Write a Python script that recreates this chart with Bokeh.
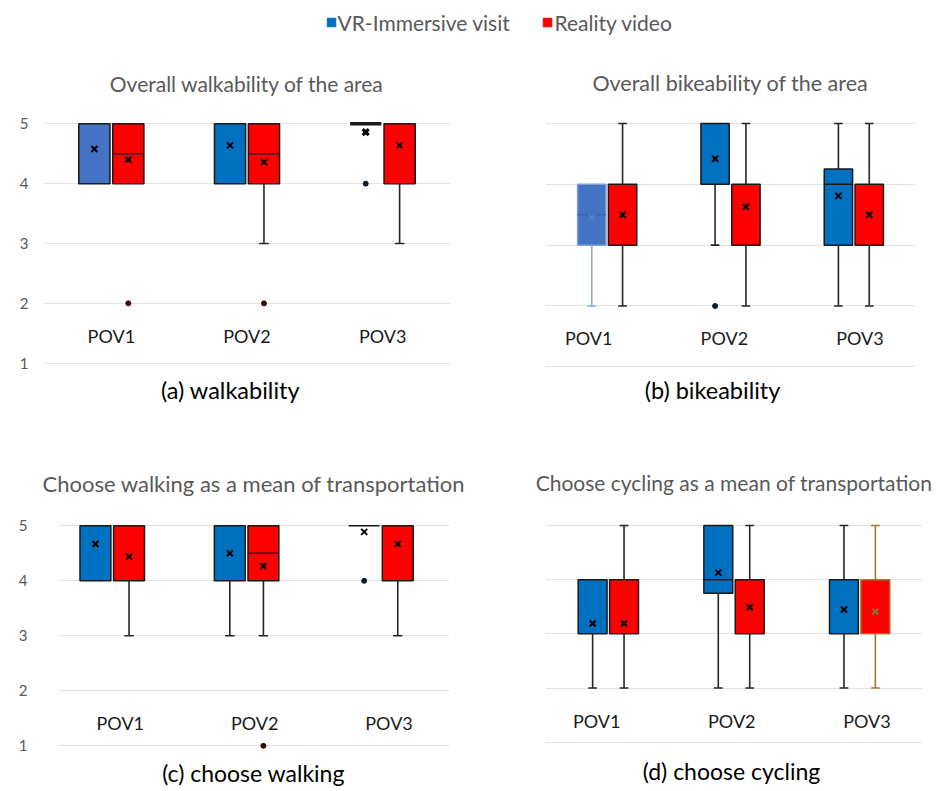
from bokeh.plotting import figure
from bokeh.layouts import column, row
from bokeh.models import ColumnDataSource, FixedTicker, Range1d
from bokeh.core.properties import value
from bokeh.embed import file_html
from bokeh.resources import INLINE

# ---------------- data ----------------
categories = ["POV1", "POV2", "POV3"]
series_names = ["VR-Immersive visit", "Reality video"]
series_colors = ["#0070C0", "#FF0000"]
y_ticks = [1, 2, 3, 4, 5]

# (a) walkability
walk_vr_q1 = [4, 4, 5]
walk_vr_med = [5, 5, 5]
walk_vr_q3 = [5, 5, 5]
walk_vr_lo = [4, 4, 5]
walk_vr_hi = [5, 5, 5]
walk_vr_mean = [4.58, 4.64, 4.86]
walk_vr_out = [[], [], [4]]
walk_rv_q1 = [4, 4, 4]
walk_rv_med = [4.5, 4.5, 5]
walk_rv_q3 = [5, 5, 5]
walk_rv_lo = [4, 3, 3]
walk_rv_hi = [5, 5, 5]
walk_rv_mean = [4.40, 4.36, 4.64]
walk_rv_out = [[2], [2], []]

# (b) bikeability
bike_vr_q1 = [3, 4, 3]
bike_vr_med = [3.5, 5, 4]
bike_vr_q3 = [4, 5, 4.25]
bike_vr_lo = [2, 3, 2]
bike_vr_hi = [4, 5, 5]
bike_vr_mean = [3.46, 4.42, 3.81]
bike_vr_out = [[], [2], []]
bike_rv_q1 = [3, 3, 3]
bike_rv_med = [4, 4, 4]
bike_rv_q3 = [4, 4, 4]
bike_rv_lo = [2, 2, 2]
bike_rv_hi = [5, 5, 5]
bike_rv_mean = [3.50, 3.63, 3.50]
bike_rv_out = [[], [], []]

# (c) choose walking
cwalk_vr_q1 = [4, 4, 5]
cwalk_vr_med = [5, 5, 5]
cwalk_vr_q3 = [5, 5, 5]
cwalk_vr_lo = [4, 3, 5]
cwalk_vr_hi = [5, 5, 5]
cwalk_vr_mean = [4.67, 4.50, 4.89]
cwalk_vr_out = [[], [], [4]]
cwalk_rv_q1 = [4, 4, 4]
cwalk_rv_med = [4, 4.5, 5]
cwalk_rv_q3 = [5, 5, 5]
cwalk_rv_lo = [3, 3, 3]
cwalk_rv_hi = [5, 5, 5]
cwalk_rv_mean = [4.44, 4.27, 4.67]
cwalk_rv_out = [[], [1], []]

# (d) choose cycling
ccyc_vr_q1 = [3, 3.75, 3]
ccyc_vr_med = [3, 4, 3]
ccyc_vr_q3 = [4, 5, 4]
ccyc_vr_lo = [2, 2, 2]
ccyc_vr_hi = [4, 5, 5]
ccyc_vr_mean = [3.19, 4.13, 3.45]
ccyc_vr_out = [[], [], []]
ccyc_rv_q1 = [3, 3, 3]
ccyc_rv_med = [3, 3, 3]
ccyc_rv_q3 = [4, 4, 4]
ccyc_rv_lo = [2, 2, 2]
ccyc_rv_hi = [5, 5, 5]
ccyc_rv_mean = [3.19, 3.49, 3.41]
ccyc_rv_out = [[], [], []]

# ---------------- styling / layout ----------------
FONT = "Lato"
BOX_W = 0.23
OFFS = [-0.125, 0.125]
CAP_W = 0.07

DEFAULT_STYLE = dict(line="#1A1A1A", whisker="#262626", mean="#000000",
                     median="#1A1A1A", box_lw=1.5, mean_lw=2)
OVERRIDES = {
    ("a", 0, 0): dict(fill="#4472C4"),
    ("a", 0, 2): dict(box_lw=3.5, mean_lw=3),
    ("b", 0, 0): dict(fill="#4472C4", line="#7F9CD8", whisker="#8FAADC",
                      mean="#5A7FCB", median="#3B64B5"),
    ("d", 1, 2): dict(line="#9C7A30", whisker="#9C7A30", mean="#8C7030"),
}
OUT_COLORS = ["#0D1A2B", "#3A0808"]


def style_for(key, s, i):
    st = dict(DEFAULT_STYLE)
    st["fill"] = series_colors[s]
    st.update(OVERRIDES.get((key, s, i), {}))
    return st


def make_panel(spec):
    key = spec["key"]
    # page-pixel layout -> data ranges
    ppu = (spec["g1"] - spec["g5"]) / 4.0
    y_end = 5 + (spec["g5"] - spec["top"]) / ppu
    y_start = 1 - (spec["bottom"] - spec["g1"]) / ppu
    fh = spec["bottom"] - spec["top"]
    mbt = spec["top"] - spec["row_top"]
    fw = spec["fw"]
    x0r, x1r = spec["xr"]
    frame_left = spec["fig_left"] + spec["mbl"]

    p = figure(frame_width=fw, frame_height=fh,
               x_range=Range1d(x0r, x1r), y_range=Range1d(y_start, y_end),
               x_axis_location=None,
               y_axis_location="left" if spec["yaxis"] else None,
               toolbar_location=None, output_backend="svg",
               min_border_left=spec["mbl"], min_border_right=spec["mbr"],
               min_border_top=mbt, min_border_bottom=0,
               outline_line_color=None, background_fill_color="white",
               border_fill_color="white", title=spec["title"])
    p.title.align = "center"
    p.title.text_font = FONT
    p.title.text_font_size = spec["tsize"]
    p.title.text_font_style = "normal"
    p.title.text_color = "#595959"
    p.title.standoff = spec["tstand"]

    p.xgrid.visible = False
    p.ygrid.ticker = FixedTicker(ticks=y_ticks)
    p.ygrid.grid_line_color = "#E3E3E3"
    p.ygrid.grid_line_width = 1

    if spec["yaxis"]:
        ax = p.yaxis[0]
        ax.ticker = FixedTicker(ticks=y_ticks)
        ax.axis_line_color = None
        ax.major_tick_line_color = None
        ax.minor_tick_line_color = None
        ax.major_tick_out = 0
        ax.major_tick_in = 0
        ax.major_label_text_font = FONT
        ax.major_label_text_font_size = "15px"
        ax.major_label_text_color = "#595959"
        ax.major_label_standoff = spec["ystand"]

    boxes = dict(left=[], right=[], bottom=[], top=[], fill=[], line=[], lw=[])
    wh = dict(x0=[], y0=[], x1=[], y1=[], color=[])
    meds = dict(x0=[], y0=[], x1=[], y1=[], color=[])
    means = dict(x=[], y=[], color=[], lw=[])
    outs = dict(x=[], y=[], color=[])

    for s, ser in enumerate([spec["vr"], spec["rv"]]):
        q1, med, q3, lo, hi, mean, outl = ser
        for i in range(len(categories)):
            x = i + 0.5 + OFFS[s]
            st = style_for(key, s, i)
            if lo[i] < q1[i]:
                wh["x0"] += [x, x - CAP_W / 2]
                wh["y0"] += [q1[i], lo[i]]
                wh["x1"] += [x, x + CAP_W / 2]
                wh["y1"] += [lo[i], lo[i]]
                wh["color"] += [st["whisker"]] * 2
            if hi[i] > q3[i]:
                wh["x0"] += [x, x - CAP_W / 2]
                wh["y0"] += [q3[i], hi[i]]
                wh["x1"] += [x, x + CAP_W / 2]
                wh["y1"] += [hi[i], hi[i]]
                wh["color"] += [st["whisker"]] * 2
            boxes["left"].append(x - BOX_W / 2)
            boxes["right"].append(x + BOX_W / 2)
            boxes["bottom"].append(q1[i])
            boxes["top"].append(q3[i])
            boxes["fill"].append(st["fill"])
            boxes["line"].append(st["line"])
            boxes["lw"].append(st["box_lw"])
            if q1[i] < med[i] < q3[i]:
                meds["x0"].append(x - BOX_W / 2)
                meds["x1"].append(x + BOX_W / 2)
                meds["y0"].append(med[i])
                meds["y1"].append(med[i])
                meds["color"].append(st["median"])
            means["x"].append(x)
            means["y"].append(mean[i])
            means["color"].append(st["mean"])
            means["lw"].append(st["mean_lw"])
            for o in outl[i]:
                outs["x"].append(x)
                outs["y"].append(o)
                outs["color"].append(OUT_COLORS[s])

    p.segment(source=ColumnDataSource(wh), x0="x0", y0="y0", x1="x1", y1="y1",
              line_color="color", line_width=1.6)
    p.quad(source=ColumnDataSource(boxes), left="left", right="right",
           bottom="bottom", top="top", fill_color="fill", line_color="line",
           line_width="lw")
    p.segment(source=ColumnDataSource(meds), x0="x0", y0="y0", x1="x1", y1="y1",
              line_color="color", line_width=1.5)
    p.scatter(source=ColumnDataSource(means), x="x", y="y", marker="x", size=8.5,
              line_color="color", line_width="lw")
    p.scatter(source=ColumnDataSource(outs), x="x", y="y", marker="circle", size=5,
              fill_color="color", line_color="color")

    sc, sh = spec["lab"]
    lab_x = [(i + 0.5) * sc + sh for i in range(len(categories))]
    p.text(x=lab_x, y=[spec["laby"]] * len(categories), text=categories,
           text_align="center", text_baseline="middle",
           text_font=value(FONT), text_font_size=value("18px"),
           text_color="#1A1A1A")

    # caption under the panel (inside the extended, grid-free part of the frame)
    cap_x = x0r + (spec["cap_px"] - frame_left) * (x1r - x0r) / fw
    cap_y = 1 - (spec["cap_py"] - spec["g1"]) / ppu
    p.text(x=[cap_x], y=[cap_y], text=[spec["caption"]],
           text_align="center", text_baseline="middle",
           text_font=value(FONT), text_font_size=value(spec["capsize"]),
           text_color="#000000")
    return p


specs = [
    dict(key="a", title="Overall walkability of the area", caption="(a) walkability",
         vr=(walk_vr_q1, walk_vr_med, walk_vr_q3, walk_vr_lo, walk_vr_hi, walk_vr_mean, walk_vr_out),
         rv=(walk_rv_q1, walk_rv_med, walk_rv_q3, walk_rv_lo, walk_rv_hi, walk_rv_mean, walk_rv_out),
         fig_left=0, mbl=43, fw=407, mbr=15, xr=(0, 3),
         row_top=44, top=114, g5=123.3, g1=362.7, bottom=440,
         yaxis=True, ystand=15, tsize="21px", tstand=38,
         lab=(1.0, 0.0), laby=1.46, cap_px=230, cap_py=389, capsize="23.5px"),
    dict(key="b", title="Overall bikeability of the area", caption="(b) bikeability",
         vr=(bike_vr_q1, bike_vr_med, bike_vr_q3, bike_vr_lo, bike_vr_hi, bike_vr_mean, bike_vr_out),
         rv=(bike_rv_q1, bike_rv_med, bike_rv_q3, bike_rv_lo, bike_rv_hi, bike_rv_mean, bike_rv_out),
         fig_left=465, mbl=80, fw=370, mbr=21, xr=(0, 3),
         row_top=44, top=111, g5=120, g1=363.3, bottom=440,
         yaxis=False, ystand=0, tsize="21.5px", tstand=38,
         lab=(1.1, -0.2), laby=1.47, cap_px=712, cap_py=386, capsize="23.5px"),
    dict(key="c", title="Choose walking as a mean of transportation", caption="(c) choose walking",
         vr=(cwalk_vr_q1, cwalk_vr_med, cwalk_vr_q3, cwalk_vr_lo, cwalk_vr_hi, cwalk_vr_mean, cwalk_vr_out),
         rv=(cwalk_rv_q1, cwalk_rv_med, cwalk_rv_q3, cwalk_rv_lo, cwalk_rv_hi, cwalk_rv_mean, cwalk_rv_out),
         fig_left=0, mbl=58, fw=391, mbr=16, xr=(0.10, 3.01),
         row_top=440, top=515, g5=523.3, g1=743.3, bottom=790,
         yaxis=True, ystand=31, tsize="22px", tstand=41,
         lab=(1.0, 0.06), laby=1.42, cap_px=253, cap_py=770, capsize="23px"),
    dict(key="d", title="Choose cycling as a mean of transportation", caption="(d) choose cycling",
         vr=(ccyc_vr_q1, ccyc_vr_med, ccyc_vr_q3, ccyc_vr_lo, ccyc_vr_hi, ccyc_vr_mean, ccyc_vr_out),
         rv=(ccyc_rv_q1, ccyc_rv_med, ccyc_rv_q3, ccyc_rv_lo, ccyc_rv_hi, ccyc_rv_mean, ccyc_rv_out),
         fig_left=465, mbl=80, fw=377, mbr=14, xr=(0, 3),
         row_top=440, top=517, g5=525, g1=741.7, bottom=790,
         yaxis=False, ystand=0, tsize="21px", tstand=45,
         lab=(1.075, -0.13), laby=1.40, cap_px=731, cap_py=770, capsize="23px"),
]

panels = [make_panel(s) for s in specs]

# legend strip
leg = figure(frame_width=936, frame_height=44, x_range=Range1d(0, 936),
             y_range=Range1d(0, 44), x_axis_location=None, y_axis_location=None,
             toolbar_location=None, output_backend="svg", min_border=0,
             outline_line_color=None)
leg.grid.visible = False
leg_marker_x = [331, 547]
leg_text_x = [337, 554]
leg.scatter(x=leg_marker_x, y=[22, 22], marker="square", size=8.5,
            fill_color=series_colors, line_color=series_colors)
leg.text(x=leg_text_x, y=[22, 22], text=series_names, text_baseline="middle",
         text_font=value(FONT), text_font_size=value("21px"), text_color="#595959")

layout = column(leg, row(panels[0], panels[1]), row(panels[2], panels[3]))

open("out.html", "w").write(file_html(layout, INLINE))
